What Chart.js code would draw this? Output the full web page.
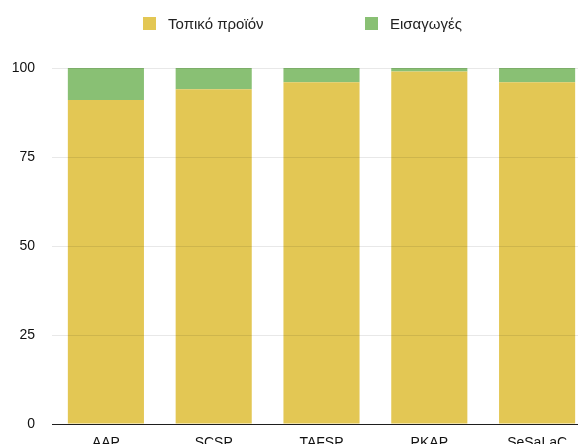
<!DOCTYPE html>
<html>
<head>
<meta charset="utf-8">
<script src="https://cdn.jsdelivr.net/npm/chart.js@4"></script>
<style>
  html, body { margin: 0; padding: 0; background: #fff; overflow: hidden; }
  #wrap { position: relative; width: 578px; height: 444px; overflow: hidden; }
  #chartBox { position: absolute; left: 0; top: 0; width: 600px; height: 460px; }
  .legend { position: absolute; top: 15px; font: 15px "Liberation Sans", Arial, sans-serif; color: #222; display: flex; align-items: center; }
  .legend span.box { display: inline-block; width: 13px; height: 13px; margin-right: 12px; }
</style>
</head>
<body>
<div id="wrap">
  <div id="chartBox"><canvas id="stackChart" width="600" height="460"></canvas></div>
  <div class="legend" style="left:143px"><span class="box" style="background:#E3C754"></span>Τοπικό προϊόν</div>
  <div class="legend" style="left:365px"><span class="box" style="background:#89C074"></span>Εισαγωγές</div>
</div>
<script>
// Δεδομένα (ποσοστά %)
const categories = ["AAP", "SCSP", "TAFSP", "PKAP", "SeSaLaC"];
const localProduct = [91, 94, 96, 99, 96];
const imports = [9, 6, 4, 1, 4];
const yTicks = [0, 25, 50, 75, 100];

const fontFamily = '"Liberation Sans", Arial, sans-serif';

const config = {
    type: "bar",
    data: {
        labels: categories,
        datasets: [
            {
                label: "Τοπικό προϊόν",
                data: localProduct,
                backgroundColor: "#E3C754",
                borderWidth: 0
            },
            {
                label: "Εισαγωγές",
                data: imports,
                backgroundColor: "#89C074",
                borderWidth: 0
            }
        ]
    },
    options: {
        responsive: false,
        animation: false,
        layout: { padding: { top: 68, right: 9, left: 0, bottom: 0 } },
        plugins: {
            legend: { display: false },
            tooltip: { enabled: false }
        },
        datasets: {
            bar: { categoryPercentage: 1, barPercentage: 0.706 }
        },
        scales: {
            x: {
                stacked: true,
                grid: { display: false },
                border: { display: true, color: "#222", width: 1 },
                ticks: {
                    padding: 3,
                    color: "#111",
                    font: { family: fontFamily, size: 14 }
                },
                afterFit: function(scale) { scale.height = 36; }
            },
            y: {
                stacked: true,
                min: 0,
                max: 100,
                afterBuildTicks: function(scale) {
                    scale.ticks = yTicks.map(v => ({ value: v }));
                },
                grid: { color: "rgba(0,0,0,0.09)", drawTicks: false, z: 1 },
                border: { display: false },
                ticks: {
                    padding: 17,
                    color: "#111",
                    font: { family: fontFamily, size: 14 }
                },
                afterFit: function(scale) { scale.width = 52; }
            }
        }
    }
};

const ctx = document.getElementById("stackChart");
if (ctx) {
    new Chart(ctx, config);
}
</script>
</body>
</html>
